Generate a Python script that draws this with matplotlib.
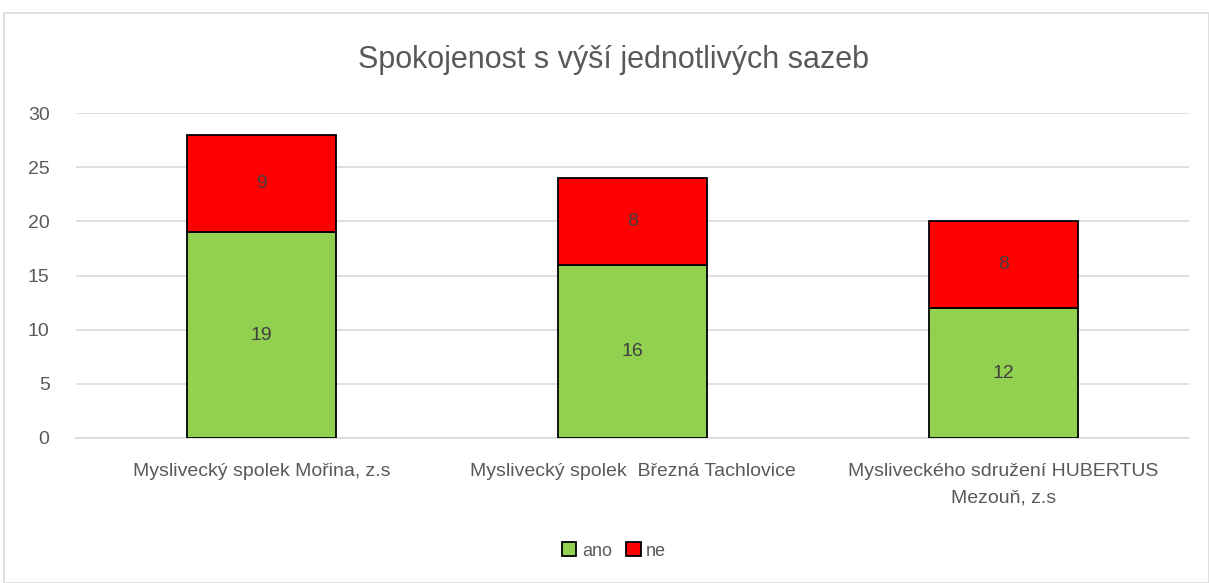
import matplotlib

matplotlib.use('Agg')

import matplotlib.pyplot as plt
from matplotlib.patches import Rectangle

plt.rcParams['font.family'] = ['Liberation Sans', 'DejaVu Sans']

categories = ['Myslivecký spolek Mořina, z.s',
              'Myslivecký spolek  Březná Tachlovice',
              'Mysliveckého sdružení HUBERTUS\nMezouň, z.s']
ano = [19, 16, 12]
ne = [9, 8, 8]
yticks = [0, 5, 10, 15, 20, 25, 30]

text_col = '#595959'
green = '#92d050'
red = '#ff0000'

fig = plt.figure(figsize=(12.09, 5.83), dpi=100)
ax = fig.add_axes([76 / 1209, 1 - 438 / 583, 1113 / 1209, 325 / 583])

# outer chart frame
fig.patches.append(Rectangle((4 / 1209, 0), 1 - 4 / 1209, 1 - 13 / 583,
                             transform=fig.transFigure, fill=False,
                             edgecolor='#d9d9d9', linewidth=1.2))

x = list(range(len(categories)))
b1 = ax.bar(x, ano, width=0.4, color=green, edgecolor='black', linewidth=1.3,
            label='ano', zorder=3)
b2 = ax.bar(x, ne, width=0.4, bottom=ano, color=red, edgecolor='black',
            linewidth=1.3, label='ne', zorder=3)

for i in x:
    ax.text(i, ano[i] / 2, str(ano[i]), ha='center', va='center',
            fontsize=14, color='#404040', zorder=4)
    ax.text(i, ano[i] + ne[i] / 2, str(ne[i]), ha='center', va='center',
            fontsize=14, color='#404040', zorder=4)

ax.set_xlim(-0.5, 2.5)
ax.set_ylim(0, 30)
ax.set_yticks(yticks)
ax.set_xticks(x)
ax.set_xticklabels(categories, fontsize=14, color=text_col, linespacing=1.75)
ax.tick_params('y', labelsize=14, colors=text_col, length=0, pad=19)
ax.tick_params('x', length=0, pad=18)
ax.grid(axis='y', color='#d9d9d9', linewidth=1.2, zorder=0)
for s in ['top', 'right', 'left']:
    ax.spines[s].set_visible(False)
ax.spines['bottom'].set_color('#d9d9d9')
ax.spines['bottom'].set_linewidth(1.2)

fig.text(614 / 1209, 1 - 60 / 583, 'Spokojenost s výší jednotlivých sazeb',
         ha='center', va='center', fontsize=22, color=text_col)

fig.legend(handles=[b1, b2], loc='center', bbox_to_anchor=(614 / 1209, 1 - 551 / 583),
           ncol=2, frameon=False, fontsize=13, handlelength=0.8, handleheight=0.8,
           handletextpad=0.3, columnspacing=0.8, labelcolor=text_col)

fig.savefig('out.png', dpi=100)
plt.close(fig)
